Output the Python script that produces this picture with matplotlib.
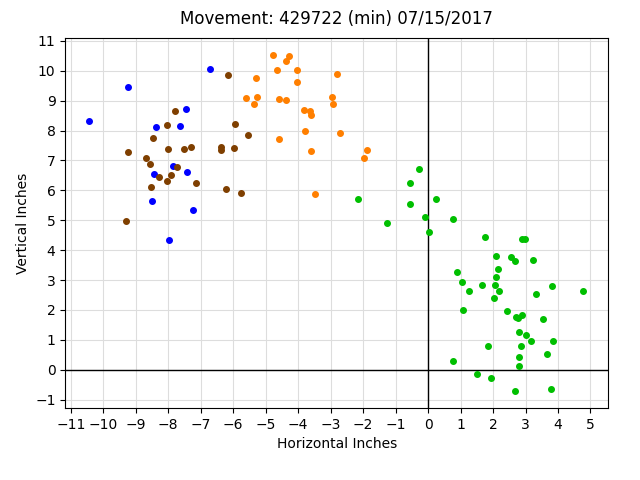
import matplotlib
matplotlib.use("Agg")
import matplotlib.pyplot as plt
from matplotlib.ticker import MultipleLocator

# movement readings, grouped by colour
blue_x = [-10.43, -9.24, -6.72, -7.45, -8.38, -7.64, -7.84, -8.43, -7.42, -8.51, -7.25, -7.97]
blue_y = [8.33, 9.45, 10.06, 8.72, 8.12, 8.16, 6.81, 6.54, 6.61, 5.65, 5.34, 4.33]

brown_x = [-6.17, -7.78, -8.04, -5.95, -5.55, -8.46, -9.23, -8.02, -7.51, -7.30, -6.37, -6.37,
           -5.98, -8.70, -8.55, -7.74, -7.92, -8.27, -8.03, -7.16, -8.52, -6.23, -5.75, -9.31]
brown_y = [9.85, 8.66, 8.18, 8.23, 7.86, 7.74, 7.28, 7.39, 7.38, 7.46, 7.45, 7.35,
           7.41, 7.08, 6.88, 6.78, 6.52, 6.44, 6.32, 6.24, 6.12, 6.05, 5.92, 4.97]

orange_x = [-5.31, -5.62, -5.26, -5.36, -4.76, -4.27, -4.38, -4.65, -4.04, -2.80, -4.04, -4.58,
            -4.37, -2.95, -2.92, -3.82, -3.64, -3.59, -3.78, -2.71, -4.59, -3.61, -1.89, -1.97, -3.49]
orange_y = [9.75, 9.08, 9.13, 8.90, 10.54, 10.50, 10.34, 10.03, 10.04, 9.90, 9.62, 9.07,
            9.04, 9.14, 8.90, 8.68, 8.66, 8.51, 8.00, 7.93, 7.73, 7.33, 7.35, 7.08, 5.87]

green_x = [-2.15, -0.28, -0.57, -0.57, 0.24, -1.27, -0.09, 0.78, 0.04, 1.75, 0.90, 1.05, 1.26, 1.66,
           2.88, 2.97, 2.08, 2.55, 2.68, 3.24, 2.16, 2.10, 2.07, 3.83, 2.17, 4.77, 3.33, 2.02,
           1.08, 2.42, 2.70, 2.78, 2.88, 3.55, 2.80, 3.03, 3.18, 3.86, 1.84, 2.85, 3.65, 2.81,
           0.78, 2.79, 1.51, 1.93, 2.67, 3.78]
green_y = [5.72, 6.70, 6.24, 5.56, 5.71, 4.90, 5.12, 5.05, 4.62, 4.44, 3.27, 2.94, 2.64, 2.83,
           4.38, 4.39, 3.81, 3.78, 3.63, 3.67, 3.38, 3.10, 2.84, 2.79, 2.64, 2.64, 2.53, 2.40,
           2.00, 1.97, 1.77, 1.73, 1.84, 1.69, 1.26, 1.15, 0.95, 0.95, 0.80, 0.81, 0.54, 0.41,
           0.28, 0.13, -0.13, -0.27, -0.70, -0.64]

fig, ax = plt.subplots(figsize=(6.4, 4.8), dpi=100)

ax.grid(True, color="#dddddd", linewidth=0.8)
ax.set_axisbelow(True)
ax.axhline(0, color="black", linewidth=1, zorder=1)
ax.axvline(0, color="black", linewidth=1, zorder=1)

ax.scatter(blue_x, blue_y, s=16, color="#0000ff", zorder=3)
ax.scatter(brown_x, brown_y, s=16, color="#7f3f00", zorder=3)
ax.scatter(orange_x, orange_y, s=16, color="#ff7f00", zorder=3)
ax.scatter(green_x, green_y, s=16, color="#00bf00", zorder=3)

ax.set_xlim(-11.17, 5.54)
ax.set_ylim(-1.28, 11.1)
ax.xaxis.set_major_locator(MultipleLocator(1))
ax.yaxis.set_major_locator(MultipleLocator(1))

ax.set_title("Movement: 429722 (min) 07/15/2017", pad=10)
ax.set_xlabel("Horizontal Inches")
ax.set_ylabel("Vertical Inches")

fig.subplots_adjust(left=0.102, right=0.95, top=0.921, bottom=0.15)
fig.savefig("out.png")
